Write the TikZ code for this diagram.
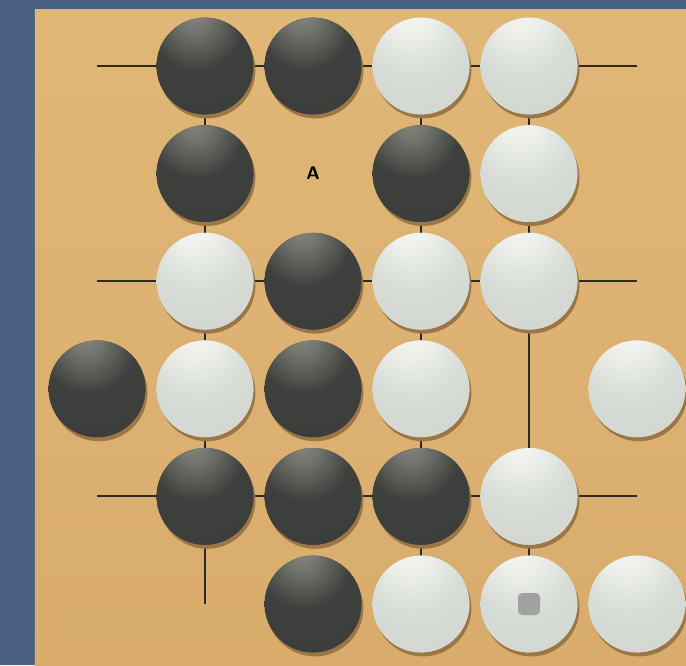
\documentclass[tikz,border=0pt]{standalone}
\usepackage{tikz}
\usetikzlibrary{shadows}

% stone shadings (offset highlight near the top)
\pgfdeclareradialshading{blackstone}{\pgfpoint{-6bp}{28bp}}{%
  rgb(0bp)=(0.53,0.53,0.50);
  rgb(8bp)=(0.45,0.46,0.43);
  rgb(24bp)=(0.24,0.25,0.24);
  rgb(50bp)=(0.23,0.24,0.23);
  rgb(100bp)=(0.23,0.24,0.23)}
\pgfdeclareradialshading{whitestone}{\pgfpoint{-6bp}{30bp}}{%
  rgb(0bp)=(0.97,0.97,0.96);
  rgb(10bp)=(0.93,0.94,0.92);
  rgb(28bp)=(0.84,0.86,0.84);
  rgb(50bp)=(0.82,0.84,0.81);
  rgb(100bp)=(0.82,0.84,0.81)}

\begin{document}
\begin{tikzpicture}[
    x=2.7cm, y=-2.69cm,
    every node/.style={font=\sffamily},
    stone/.style={
        circle,
        inner sep=0pt,
        minimum size=2.42cm,
        drop shadow={shadow xshift=0.05cm, shadow yshift=-0.1cm,
                     fill=stoneshadow, opacity=1},
    },
    bstone/.style={stone, preaction={fill=blackbase}, shading=blackstone},
    wstone/.style={stone, preaction={fill=whitebase}, shading=whitestone},
    gridline/.style={line width=1.5pt, draw=gridcol},
]

% Colors
\definecolor{frame}{HTML}{4A6080}
\definecolor{woodtop}{HTML}{E0B777}
\definecolor{woodbot}{HTML}{D9AC6C}
\definecolor{gridcol}{HTML}{2A2B28}
\definecolor{stoneshadow}{HTML}{9C7645}
\definecolor{blackbase}{HTML}{3B3D3B}
\definecolor{whitebase}{HTML}{D1D6D0}
\definecolor{markgray}{HTML}{A0A2A0}

% Picture frame and board
\useasboundingbox (-0.8981,-0.6134) rectangle (5.4537,5.5669);
\fill[frame] (-0.8981,-0.6134) rectangle (5.4537,5.5669);
\shade[top color=woodtop, bottom color=woodbot]
    (-0.5741,-0.5297) rectangle (5.4537,5.5669);

% Grid lines (only the ones that show)
\foreach \r in {0,2,4}
    \draw[gridline] (0,\r) -- (5,\r);
\foreach \c in {1,3,4}
    \draw[gridline] (\c,0) -- (\c,5);

% Black stones
\foreach \c/\r in {1/0, 2/0, 1/1, 3/1, 2/2, 0/3, 2/3, 1/4, 2/4, 3/4, 2/5}
    \node[bstone] (b\c\r) at (\c,\r) {};

% White stones
\foreach \c/\r in {3/0, 4/0, 4/1, 1/2, 3/2, 4/2, 1/3, 3/3, 5/3, 4/4, 3/5, 4/5, 5/5}
    \node[wstone] (w\c\r) at (\c,\r) {};

% Label and last-move marker
\node[font=\sffamily\bfseries\fontsize{13}{13}\selectfont, text=black] (labelA) at (2,1) {A};
\node[rectangle, rounded corners=3pt, fill=markgray, minimum size=0.55cm,
      inner sep=0pt] (lastmove) at (w45) {};

\end{tikzpicture}
\end{document}
